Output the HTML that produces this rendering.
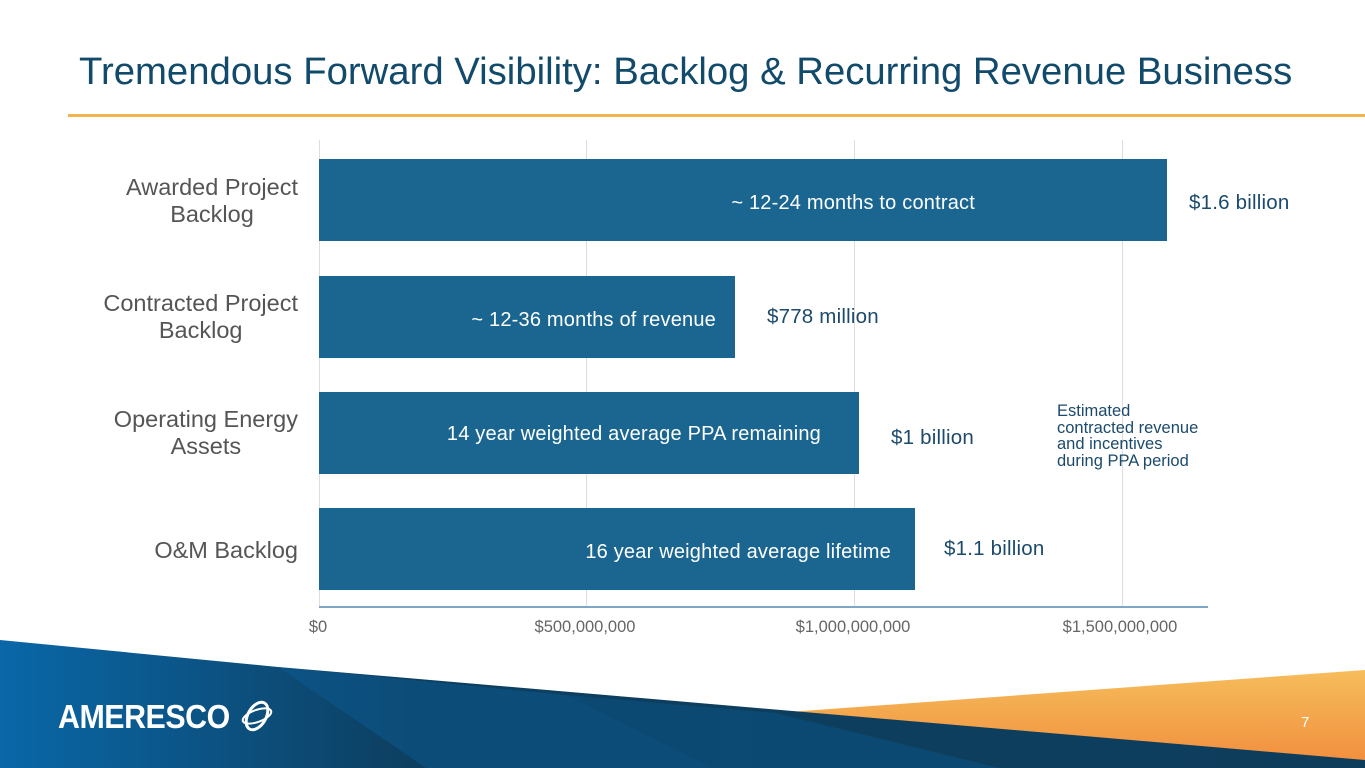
<!DOCTYPE html>
<html><head><style>
body{margin:0;width:1365px;height:768px;overflow:hidden;background:#fff;font-family:"Liberation Sans",sans-serif;position:relative}
.a{position:absolute}
.bar{position:absolute;left:319px;height:82px;background:#1a6690;color:#fff;font-size:20px;line-height:88px;text-align:right;box-sizing:border-box;letter-spacing:0.2px}
.cat{position:absolute;right:1067px;text-align:center;color:#555;font-size:23.5px;line-height:27px}
.val{position:absolute;color:#1b4a6b;font-size:20.5px;letter-spacing:0.2px}
.tick{position:absolute;top:618px;color:#666;font-size:16.5px;transform:translateX(-50%)}
.grid{position:absolute;top:140px;height:467px;width:1px;background:#ddd}
</style></head><body>
<div class="a" style="left:79px;top:50px;font-size:38.3px;color:#114a6a;white-space:nowrap">Tremendous Forward Visibility: Backlog &amp; Recurring Revenue Business</div>
<div class="a" style="left:68px;top:114px;width:1297px;height:3px;background:#f2b24c"></div>
<div class="grid" style="left:319px"></div><div class="grid" style="left:586px"></div><div class="grid" style="left:854px"></div><div class="grid" style="left:1122px"></div>
<div class="bar" style="top:159px;width:848px;padding-right:192px">~ 12-24 months to contract</div>
<div class="bar" style="top:276px;width:416px;padding-right:19px">~ 12-36 months of revenue</div>
<div class="bar" style="top:392px;width:540px;padding-right:38px;line-height:84px">14 year weighted average PPA remaining</div>
<div class="bar" style="top:508px;width:596px;padding-right:24px">16 year weighted average lifetime</div>
<div class="a" style="left:319px;top:606px;width:889px;height:2px;background:#7ea6c6"></div>
<div class="cat" style="top:174px">Awarded Project<br>Backlog</div>
<div class="cat" style="top:290px">Contracted Project<br>Backlog</div>
<div class="cat" style="top:406px">Operating Energy<br>Assets</div>
<div class="cat" style="top:537px">O&amp;M Backlog</div>
<div class="val" style="left:1189px;top:191px">$1.6 billion</div>
<div class="val" style="left:767px;top:305px">$778 million</div>
<div class="val" style="left:891px;top:426px">$1 billion</div>
<div class="val" style="left:944px;top:537px">$1.1 billion</div>
<div class="a" style="left:1057px;top:403px;font-size:16.5px;line-height:16.5px;color:#1b4a6b">Estimated<br>contracted revenue<br>and incentives<br>during PPA period</div>
<div class="tick" style="left:318px">$0</div><div class="tick" style="left:585px">$500,000,000</div><div class="tick" style="left:853px">$1,000,000,000</div><div class="tick" style="left:1120px">$1,500,000,000</div>
<svg class="a" style="left:0;top:0" width="1365" height="768">
<defs><linearGradient id="o" x1="0" y1="0" x2="0" y2="1"><stop offset="0" stop-color="#f6bd5c"/><stop offset="1" stop-color="#f18c3c"/></linearGradient>
<linearGradient id="b" x1="0" y1="0" x2="1" y2="0"><stop offset="0" stop-color="#0a67a8"/><stop offset="0.3" stop-color="#0d3f60"/><stop offset="1" stop-color="#0e3d5c"/></linearGradient></defs>
<polygon points="775,713 1365,670 1365,768 1100,768" fill="url(#o)"/>
<polygon points="0,640 278,667 1365,760 1365,768 0,768" fill="url(#b)"/>
<polygon points="278,667 566,695 714,768 426,768" fill="#0b5a92" opacity="0.5"/>
<polygon points="566,695 775,713 1000,768 714,768" fill="#0b5a92" opacity="0.4"/>
<ellipse cx="257" cy="716" rx="9" ry="15" fill="none" stroke="#fff" stroke-width="3" transform="rotate(30 257 716)"/>
<ellipse cx="257" cy="716" rx="15" ry="6" fill="none" stroke="#fff" stroke-width="2" transform="rotate(-20 257 716)"/>
</svg>
<div class="a" style="left:58px;top:698px;color:#fff;font-size:33px;font-weight:bold;letter-spacing:-0.5px;transform:scaleX(0.92);transform-origin:left">AMERESCO</div>
<div class="a" style="left:1301px;top:714px;color:#fff;font-size:15px">7</div>
</body></html>
